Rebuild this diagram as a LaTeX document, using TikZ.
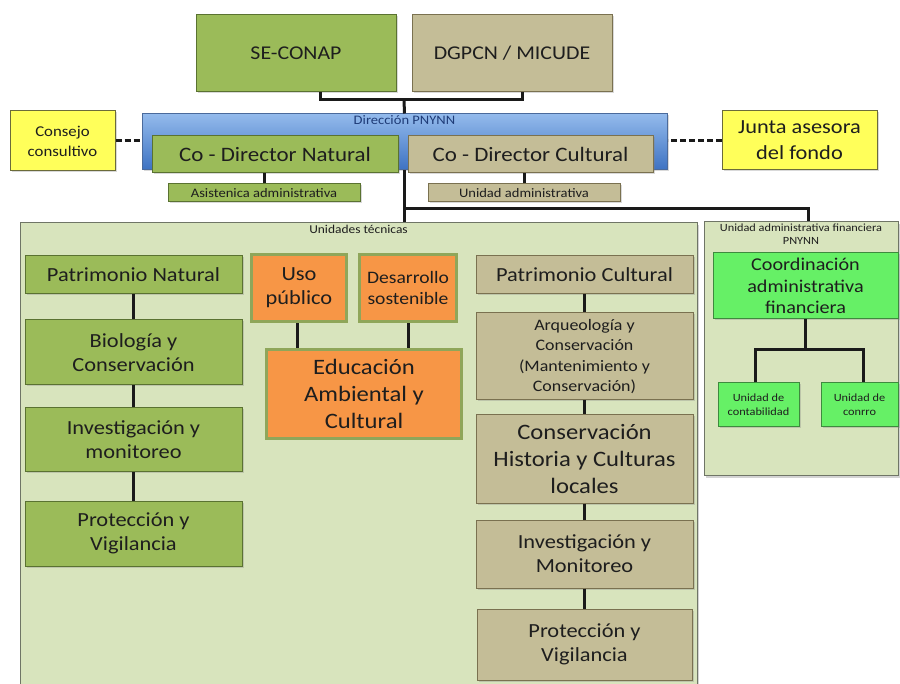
\documentclass[tikz,border=0pt]{standalone}
\usepackage{fontspec}
\setmainfont{Carlito}[FakeStretch=1.12]
\usetikzlibrary{shadows}

\begin{document}
\begin{tikzpicture}[x=1pt, y=-1pt,
    boxSize/.style 2 args={minimum width=#1pt, minimum height=#2pt},
    baseBox/.style={rectangle, align=center, inner sep=1pt, line width=1pt, text=textColour,
        drop shadow={shadow xshift=1.5pt, shadow yshift=-1.5pt, opacity=0.3}},
    naturalBox/.style={baseBox, fill=naturalFill, draw=naturalBorder, font=\fontsize{20}{24}\selectfont},
    culturalBox/.style={baseBox, fill=culturalFill, draw=culturalBorder, font=\fontsize{20}{24}\selectfont},
    publicBox/.style={baseBox, fill=publicFill, draw=publicBorder, line width=3.5pt, font=\fontsize{20}{24}\selectfont},
    adviceBox/.style={baseBox, fill=adviceFill, draw=adviceBorder},
    financeBox/.style={baseBox, fill=financeFill, draw=financeBorder},
    panelBox/.style={rectangle, fill=panelFill, draw=panelBorder, line width=1pt, inner sep=0pt,
        drop shadow={shadow xshift=2pt, shadow yshift=-2pt, opacity=0.35}},
    smallText/.style={font=\fontsize{12}{14}\selectfont, text=textColour, inner sep=2pt},
    link/.style={line width=3pt, draw=linkColour}
]
    % Define colours
    \definecolor{naturalFill}{HTML}{9BBB59}
    \definecolor{naturalBorder}{HTML}{5A7231}
    \definecolor{culturalFill}{HTML}{C4BD97}
    \definecolor{culturalBorder}{HTML}{7A7150}
    \definecolor{publicFill}{HTML}{F79646}
    \definecolor{publicBorder}{HTML}{8FA65A}
    \definecolor{adviceFill}{HTML}{FFFF5A}
    \definecolor{adviceBorder}{HTML}{6B6B3A}
    \definecolor{financeFill}{HTML}{66F066}
    \definecolor{financeBorder}{HTML}{3E8A3E}
    \definecolor{panelFill}{HTML}{D8E4BD}
    \definecolor{panelBorder}{HTML}{6F7566}
    \definecolor{dirTop}{HTML}{93BAEC}
    \definecolor{dirBottom}{HTML}{3D72C2}
    \definecolor{dirBorder}{HTML}{4A6A9C}
    \definecolor{dirText}{HTML}{1F3C78}
    \definecolor{textColour}{HTML}{1E1E1E}
    \definecolor{linkColour}{HTML}{1A1A1A}

    % Fix the page size
    \useasboundingbox (0,0) rectangle (900,684);

    % Draw the two panels
    \node[panelBox, boxSize={677}{470},
        label={[smallText, anchor=north]north:Unidades técnicas}] (tecnicas) at (358.5,458) {};
    \node[panelBox, boxSize={194}{254},
        label={[smallText, anchor=north, align=center, font=\fontsize{11}{13}\selectfont]north:Unidad administrativa financiera\\PNYNN}] (financiera) at (801,349) {};

    % Draw the top institutions
    \node[naturalBox, boxSize={200}{77}, font=\fontsize{19.5}{24}\selectfont] (seconap) at (296,53.5) {SE-CONAP};
    \node[culturalBox, boxSize={200}{77}, font=\fontsize{19.5}{24}\selectfont] (dgpcn) at (512,53.5) {DGPCN / MICUDE};

    % Draw the direction and its co-directors
    \node[baseBox, boxSize={525}{56}, top color=dirTop, bottom color=dirBottom, draw=dirBorder,
        label={[anchor=north, font=\fontsize{13}{15}\selectfont, text=dirText, inner sep=2pt]north:Dirección PNYNN}] (direccion) at (404.5,142) {};
    \node[naturalBox, boxSize={246}{37}, font=\fontsize{20.5}{24}\selectfont] (codirnat) at (275,154.5) {Co - Director Natural};
    \node[culturalBox, boxSize={245}{37}, font=\fontsize{20.5}{24}\selectfont] (codircul) at (530.5,154.5) {Co - Director Cultural};
    \node[naturalBox, boxSize={192}{18}, font=\fontsize{13}{15}\selectfont] (asistencia) at (264,193) {Asistenica administrativa};
    \node[culturalBox, boxSize={192}{18}, font=\fontsize{13}{15}\selectfont] (unidadadm) at (524,193) {Unidad administrativa};

    % Draw the advisory boards
    \node[adviceBox, boxSize={105}{60}, font=\fontsize{15}{20}\selectfont] (consejo) at (62.5,141) {Consejo\\consultivo};
    \node[adviceBox, boxSize={155}{59}, font=\fontsize{20}{26}\selectfont] (junta) at (799.5,140.5) {Junta asesora\\del fondo};

    % Natural heritage column
    \node[naturalBox, boxSize={217}{38}] (patnat) at (133.5,275) {Patrimonio Natural};
    \node[naturalBox, boxSize={217}{65}] (biologia) at (133.5,352.5) {Biología y\\Conservación};
    \node[naturalBox, boxSize={217}{64}] (invnat) at (133.5,440) {Investigación y\\monitoreo};
    \node[naturalBox, boxSize={217}{65}] (protnat) at (133.5,533.5) {Protección y\\Vigilancia};

    % Public use column
    \node[publicBox, boxSize={95}{67}] (uso) at (299,288) {Uso\\público};
    \node[publicBox, boxSize={97}{67}, font=\fontsize{17.5}{21}\selectfont] (desarrollo) at (408,288) {Desarrollo\\sostenible};
    \node[publicBox, boxSize={195}{89}, font=\fontsize{22}{27}\selectfont] (educacion) at (364,394) {Educación\\Ambiental y\\Cultural};

    % Cultural heritage column
    \node[culturalBox, boxSize={217}{38}] (patcul) at (584.5,275) {Patrimonio Cultural};
    \node[culturalBox, boxSize={217}{87}, font=\fontsize{16}{20.5}\selectfont] (arqueologia) at (584.5,356.5) {Arqueología y\\Conservación\\(Mantenimiento y\\Conservación)};
    \node[culturalBox, boxSize={217}{88}, font=\fontsize{22}{27}\selectfont] (historia) at (584.5,459) {Conservación\\Historia y Culturas\\locales};
    \node[culturalBox, boxSize={217}{68}] (invcul) at (584.5,554) {Investigación y\\Monitoreo};
    \node[culturalBox, boxSize={215}{71}] (protcul) at (584.5,644.5) {Protección y\\Vigilancia};

    % Finance column
    \node[financeBox, boxSize={185}{66}, font=\fontsize{18}{21.5}\selectfont] (coordinacion) at (805.5,286) {Coordinación\\administrativa\\financiera};
    \node[financeBox, boxSize={81}{44}, font=\fontsize{11}{14}\selectfont] (contabilidad) at (758.5,405) {Unidad de\\contabilidad};
    \node[financeBox, boxSize={77}{44}, font=\fontsize{11}{14}\selectfont] (control) at (859.5,405) {Unidad de\\conrro};

    % Draw the connectors
    \coordinate (join) at (404,100);
    \coordinate (branch) at (404,209);
    \coordinate (split) at (805.5,350);
    \draw[link] ([xshift=24pt]seconap.south) |- (join) -| ([xshift=10pt]dgpcn.south);
    \draw[link] (join) -- (direccion.north);
    \draw[link] (join |- direccion.south) -- (join |- tecnicas.north);
    \draw[link] (branch) -| ([xshift=7pt]financiera.north);
    \draw[link] (asistencia.north) -- (asistencia.north |- codirnat.south);
    \draw[link] (unidadadm.north) -- (unidadadm.north |- codircul.south);
    \draw[link, dashed, dash pattern=on 6pt off 3pt] (consejo.east) -- (consejo.east -| direccion.west);
    \draw[link, dashed, dash pattern=on 6pt off 3pt] (junta.west) -- (junta.west -| direccion.east);
    \foreach \a/\b in {patnat/biologia, biologia/invnat, invnat/protnat,
                       patcul/arqueologia, arqueologia/historia, historia/invcul, invcul/protcul}
        \draw[link] (\a) -- (\b);
    \draw[link] ([xshift=-2pt]uso.south) -- ([xshift=-2pt]uso.south |- educacion.north);
    \draw[link] (desarrollo.south) -- (desarrollo.south |- educacion.north);
    \draw[link] (coordinacion) -- (split);
    \draw[link] ([xshift=-3.5pt]contabilidad.north) |- (split) -| ([xshift=3.5pt]control.north);

\end{tikzpicture}
\end{document}
